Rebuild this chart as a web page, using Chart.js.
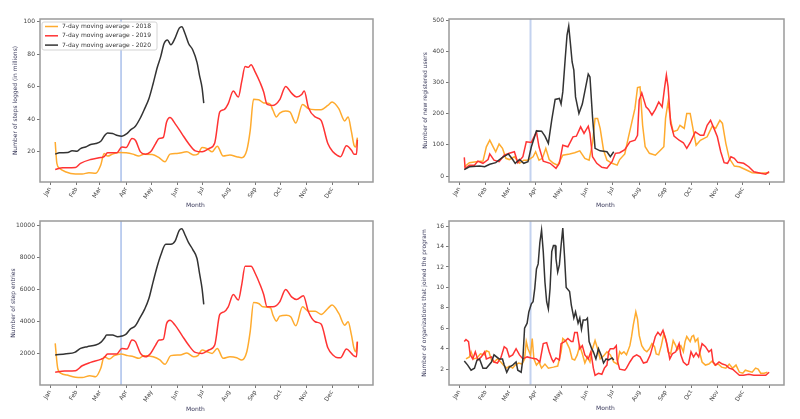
<!DOCTYPE html>
<html lang="en">
<head>
<meta charset="UTF-8">
<title>7-day moving averages</title>
<script src="https://cdn.jsdelivr.net/npm/chart.js"></script>
<style>
  body { margin: 0; background: #fff; }
  canvas { position: absolute; }
  #c1 { left: 0; top: 0; }
  #c2 { left: 400px; top: 0; }
  #c3 { left: 0; top: 210px; }
  #c4 { left: 400px; top: 210px; }
</style>
</head>
<body>
<canvas id="c1" width="400" height="210"></canvas>
<canvas id="c2" width="400" height="210"></canvas>
<canvas id="c3" width="400" height="209"></canvas>
<canvas id="c4" width="400" height="209"></canvas>
<script>
// x = day of the year, y = value
const monthDays = [0, 31, 59, 90, 120, 151, 181, 212, 243, 273, 304, 334, 365];
const monthLabels = ['Jan', 'Feb', 'Mar', 'Apr', 'May', 'Jun', 'Jul', 'Aug', 'Sep', 'Oct', 'Nov', 'Dec', ''];
const seriesLabels = ['7-day moving average - 2018', '7-day moving average - 2019', '7-day moving average - 2020'];
const lockdownDay = 84;

const stepsTicks = [20, 40, 60, 80, 100];
const usersTicks = [0, 100, 200, 300, 400, 500];
const entriesTicks = [2000, 4000, 6000, 8000, 10000];
const orgsTicks = [2, 4, 6, 8, 10, 12, 14, 16];

// steps logged (millions)
const steps2018 = [[6,26],[8,12.9],[11,9.9],[18,7.8],[30,6.4],[38,6.4],[46,7.2],[54,6.8],[60,11.9],[64,19],[68,17.4],[74,18.6],[81,19.6],[90,19.4],[98,18.6],[105,17.4],[111,18.6],[121,18.4],[129,16.5],[136,13.9],[142,18.6],[150,19],[162,20],[170,18],[175,18.6],[180,22.7],[186,22],[192,20],[198,23.5],[205,17.4],[213,18],[221,17],[227,16.4],[233,21],[237,33],[241,52.2],[247,52],[253,50],[260,49.6],[264,45.5],[268,41.4],[272,43.8],[279,45.1],[284,44.5],[291,37.7],[299,49.1],[306,46.5],[314,45.9],[321,45.9],[329,48.5],[334,50.6],[342,46.5],[349,39],[353,41.4],[357,32.2],[360,24.1],[362,23],[364,28.7]];
const steps2019 = [[6,9.2],[15,10.2],[30,10.4],[36,12.9],[48,15.3],[60,16.5],[64,17],[68,19.4],[79,19.4],[85,23],[90,22.6],[97,28.2],[101,27.1],[107,20],[113,18.6],[119,20],[125,25.1],[129,28.2],[134,28.8],[138,38.3],[142,41],[148,37.3],[156,31.2],[164,25.1],[172,20.6],[180,20],[188,22],[195,25.5],[201,44.5],[206,45.9],[211,49.6],[217,57.3],[223,53.6],[227,63.2],[231,72.3],[235,71.9],[238,73.5],[243,68.9],[249,62.2],[253,56.7],[257,49.1],[264,48.5],[272,52],[279,60.1],[286,56],[292,53.6],[298,55.2],[301,57.3],[306,47.1],[314,41.4],[321,39.3],[329,25.1],[335,20],[341,17.6],[344,17],[351,23.7],[357,21],[360,18.6],[363,18.6],[364,27.5]];
const steps2020 = [[6,18.6],[11,19.4],[21,19.6],[26,20.6],[32,20.4],[36,22],[42,23],[48,24.5],[54,25.1],[60,26.5],[64,29.6],[68,31.6],[74,31.2],[80,30],[85,29.6],[91,31.2],[95,33.3],[101,35.7],[107,40.9],[112,46.5],[117,52.6],[122,61.8],[127,71.9],[131,78.4],[135,86.5],[139,88.6],[143,85.7],[148,89.8],[153,95.9],[156,96.8],[160,92.3],[164,86.5],[169,82.5],[174,74.9],[177,66.8],[180,59.3],[182,49.9]];

// new registered users
const users2018 = [[6,30],[12,43],[20,46],[28,48],[32,94],[36,115],[40,94],[43,78],[47,103],[51,89],[55,57],[59,53],[65,62],[71,41],[76,51],[81,51],[87,62],[90,78],[94,51],[98,57],[102,89],[106,53],[111,41],[116,35],[122,67],[130,71],[136,75],[142,81],[148,57],[153,51],[157,105],[160,185],[163,185],[166,153],[170,83],[174,51],[180,41],[186,35],[189,53],[195,71],[199,121],[203,169],[207,217],[210,284],[213,286],[216,163],[219,94],[224,73],[231,67],[237,83],[241,94],[243,185],[246,238],[249,179],[252,142],[257,147],[260,163],[265,153],[268,201],[272,201],[276,142],[279,99],[284,115],[292,126],[298,160],[302,153],[307,179],[310,169],[314,105],[318,57],[324,32],[330,30],[337,21],[345,11],[355,9],[365,11]];
const users2019 = [[6,60],[7,25],[12,35],[18,35],[22,48],[28,41],[34,53],[36,71],[41,51],[47,46],[53,67],[59,73],[65,78],[69,43],[75,62],[79,110],[85,108],[91,142],[94,94],[99,48],[107,41],[114,25],[118,41],[122,99],[128,94],[134,126],[138,128],[143,158],[147,137],[152,160],[154,137],[157,62],[162,41],[168,28],[174,25],[180,46],[184,73],[189,75],[195,85],[201,110],[207,115],[210,131],[212,244],[215,267],[220,222],[223,214],[227,196],[231,214],[235,238],[239,222],[242,286],[244,324],[246,286],[249,169],[253,128],[259,115],[264,107],[268,89],[272,107],[278,142],[284,131],[288,131],[292,163],[296,179],[300,153],[304,126],[308,78],[312,43],[316,41],[320,62],[324,57],[328,44],[335,41],[341,30],[347,14],[355,9],[361,6],[365,14]];
const users2020 = [[6,21],[12,30],[24,32],[30,30],[36,38],[43,43],[51,60],[58,71],[63,53],[66,41],[71,53],[76,41],[81,46],[85,94],[91,145],[97,144],[101,128],[105,105],[109,180],[113,246],[118,249],[120,231],[122,270],[125,382],[127,452],[129,481],[131,425],[133,366],[135,340],[137,254],[141,201],[145,231],[149,286],[152,327],[154,318],[157,190],[160,89],[166,81],[174,78],[178,62],[182,78]];

// step entries
const entries2018 = [[6,2640],[9,1090],[13,780],[20,670],[30,530],[38,510],[47,630],[54,570],[60,1090],[64,1810],[70,1670],[76,1880],[84,1980],[92,1880],[99,1810],[105,1710],[111,1880],[122,1810],[130,1610],[136,1340],[143,1880],[154,1920],[162,2040],[170,1810],[175,1880],[180,2230],[186,2120],[192,2020],[198,2330],[205,1710],[213,1810],[221,1750],[227,1610],[233,2120],[237,3370],[241,5190],[247,5130],[252,4920],[261,4860],[264,4400],[268,4030],[272,4340],[280,4400],[285,4300],[291,3740],[299,4920],[306,4650],[314,4650],[321,4450],[329,4820],[334,5030],[342,4510],[349,3780],[353,3990],[357,3160],[360,2330],[362,2120],[364,2750]];
const entries2019 = [[6,840],[17,920],[30,940],[38,1250],[48,1460],[60,1650],[64,1750],[68,1980],[79,1980],[85,2330],[91,2290],[97,2850],[101,2750],[107,2020],[113,1810],[119,2020],[125,2540],[129,2850],[134,2890],[138,3890],[142,4090],[148,3780],[156,3160],[164,2540],[172,2080],[180,2020],[188,2230],[195,2540],[201,4450],[206,4610],[211,4920],[217,5690],[223,5340],[227,6310],[231,7450],[238,7450],[243,7000],[249,6270],[253,5690],[257,4920],[264,4920],[272,5230],[279,6000],[286,5540],[292,5380],[300,5610],[306,4610],[314,3990],[321,3850],[329,2370],[335,1920],[341,1750],[344,1750],[351,2290],[357,2020],[360,1860],[363,1810],[364,2750]];
const entries2020 = [[6,1920],[19,2000],[29,2080],[36,2330],[44,2440],[54,2540],[60,2710],[64,2950],[67,3160],[74,3160],[80,3060],[85,3100],[90,3220],[95,3530],[101,3740],[106,4200],[112,4780],[117,5440],[122,6480],[127,7470],[131,8140],[137,8820],[143,8820],[148,9010],[153,9690],[156,9790],[160,9380],[164,8920],[169,8490],[174,7930],[177,7000],[180,6060],[182,5070]];

// organizations that joined
const orgs2018 = [[8,3.0],[12,3.2],[14,3.7],[17,3.0],[21,3.1],[25,3.5],[30,3.4],[32,3.8],[35,3.7],[38,2.9],[41,2.7],[45,3.0],[49,2.7],[52,2.4],[56,2.1],[59,2.3],[63,2.1],[66,2.4],[70,2.6],[74,2.5],[77,3.0],[79,4.7],[81,4.0],[84,3.4],[86,5.0],[88,3.0],[91,2.4],[94,2.7],[97,2.1],[101,2.5],[105,2.1],[111,2.2],[116,2.3],[120,3.7],[122,5.0],[126,4.7],[130,4.0],[133,3.0],[136,2.9],[139,3.4],[142,4.3],[145,3.5],[148,2.6],[151,3.2],[154,2.7],[157,4.0],[160,4.8],[163,4.0],[166,3.0],[170,3.3],[174,3.7],[178,3.4],[182,2.7],[186,2.5],[189,3.7],[191,3.5],[194,3.7],[197,3.4],[201,4.3],[203,5.2],[205,6.3],[208,7.6],[210,6.9],[212,5.3],[215,4.3],[218,3.9],[221,3.7],[224,4.0],[227,4.5],[230,4.2],[232,3.5],[235,3.4],[238,4.3],[241,5.5],[244,4.7],[246,3.7],[249,3.5],[252,4.8],[255,4.3],[257,3.9],[261,4.3],[264,3.7],[266,4.7],[268,5.2],[272,4.7],[274,5.2],[276,5.3],[278,4.7],[281,5.0],[283,3.7],[286,2.7],[290,2.4],[294,2.5],[298,2.8],[301,2.4],[305,2.5],[309,2.2],[314,2.1],[318,2.5],[322,2.1],[326,2.4],[330,1.7],[334,1.6],[337,1.9],[341,1.8],[345,1.7],[349,2.1],[352,2.0],[355,1.6],[359,1.6],[363,1.7]];
const orgs2019 = [[6,4.7],[8,4.9],[11,4.7],[13,3.4],[16,3.0],[19,3.7],[22,2.9],[26,3.2],[30,3.7],[32,3.0],[38,3.2],[41,2.7],[45,2.6],[49,3.1],[53,4.2],[56,4.0],[59,3.2],[63,3.4],[67,4.0],[71,3.4],[75,3.0],[80,3.2],[85,3.1],[91,3.0],[95,2.7],[99,4.5],[103,4.6],[106,3.7],[109,3.0],[111,2.7],[114,3.1],[118,2.9],[120,4.5],[124,4.7],[128,5.0],[132,4.7],[134,4.7],[136,5.6],[139,5.6],[142,4.0],[145,4.3],[148,3.4],[152,3.0],[155,3.7],[158,2.1],[160,1.4],[164,1.6],[168,1.5],[171,2.1],[174,2.4],[176,3.7],[178,4.0],[182,4.0],[185,4.3],[186,2.9],[189,2.0],[195,1.9],[197,2.1],[201,2.7],[205,3.2],[209,3.4],[213,3.2],[217,2.6],[221,2.7],[225,3.4],[228,4.3],[231,5.2],[234,5.6],[237,5.3],[240,5.8],[243,5.0],[245,4.3],[248,3.0],[251,3.5],[255,3.7],[259,4.5],[261,3.4],[264,2.7],[268,2.4],[270,2.5],[273,3.7],[276,3.2],[279,3.6],[282,3.2],[286,4.5],[290,4.2],[294,3.7],[297,3.9],[299,2.7],[302,2.4],[306,2.7],[310,2.5],[314,2.4],[318,2.1],[322,2.0],[326,1.7],[330,1.4],[335,1.4],[341,1.5],[347,1.4],[353,1.4],[361,1.4],[365,1.7]];
const orgs2020 = [[6,2.8],[10,2.4],[14,1.9],[18,2.1],[21,2.9],[24,3.0],[28,2.1],[32,2.1],[38,2.7],[41,3.4],[47,3.0],[51,3.0],[53,2.4],[56,1.7],[59,2.2],[63,2.4],[67,2.7],[69,1.9],[73,1.7],[75,3.0],[77,6.0],[80,6.5],[82,7.6],[85,8.4],[87,8.6],[89,9.9],[91,11.8],[93,12.3],[95,14.4],[97,15.6],[99,13.5],[101,10.5],[103,8.6],[105,7.9],[107,9.9],[109,13.5],[111,14.1],[113,14.1],[114,12.8],[116,11.5],[118,12.2],[120,14.1],[122,15.8],[124,13.1],[126,10.0],[130,9.6],[132,8.3],[135,7.0],[137,7.6],[140,6.5],[142,7.0],[144,5.9],[146,6.8],[149,6.8],[151,7.0],[153,4.7],[156,4.0],[158,3.7],[161,3.0],[164,4.0],[167,3.4],[170,2.6],[173,3.0],[176,2.9],[180,3.1],[182,2.9]];

const lineColors = ['#ffab2e', '#ff3333', '#333333'];
const font = { family: 'DejaVu Sans', size: 6 };
const titleColor = '#3b3b5c';

// frame, lockdown line, "Month" label and the legend box
const decor = {
  id: 'decor',
  beforeDatasetsDraw(chart, args, o) {
    const { ctx, chartArea: a, scales: { x } } = chart;
    const px = x.getPixelForValue(lockdownDay);
    ctx.save();
    ctx.strokeStyle = o.vColor;
    ctx.lineWidth = o.vWidth;
    ctx.beginPath();
    ctx.moveTo(px, a.top);
    ctx.lineTo(px, a.bottom);
    ctx.stroke();
    ctx.restore();
  },
  afterDatasetsDraw(chart, args, o) {
    const { ctx, chartArea: a } = chart;
    ctx.save();
    ctx.strokeStyle = '#9a9a9a';
    ctx.lineWidth = 1.5;
    ctx.strokeRect(a.left, a.top, a.right - a.left, a.bottom - a.top);

    ctx.font = '6px "DejaVu Sans"';
    ctx.fillStyle = titleColor;
    ctx.textAlign = 'center';
    ctx.textBaseline = 'middle';
    ctx.fillText('Month', (a.left + a.right) / 2 - 11, o.xTitleY);

    if (o.legend) {
      const lx = a.left + 2, ly = a.top + 3;
      ctx.fillStyle = 'rgba(255,255,255,0.9)';
      ctx.strokeStyle = '#d4d4d4';
      ctx.lineWidth = 1;
      ctx.beginPath();
      ctx.roundRect(lx, ly, 115, 28, 2);
      ctx.fill();
      ctx.stroke();
      ctx.textAlign = 'left';
      chart.data.datasets.forEach((ds, i) => {
        const y = ly + 4.5 + i * 9.3;
        ctx.strokeStyle = ds.borderColor;
        ctx.lineWidth = 1.5;
        ctx.beginPath();
        ctx.moveTo(lx + 3, y);
        ctx.lineTo(lx + 16, y);
        ctx.stroke();
        ctx.fillStyle = '#333';
        ctx.fillText(ds.label, lx + 20, y);
      });
    }
    ctx.restore();
  }
};

function panel(id, series, yTicks, yMin, yMax, yTitle, L) {
  new Chart(document.getElementById(id), {
    type: 'line',
    data: {
      datasets: series.map((s, i) => ({
        label: seriesLabels[i],
        data: s.map(p => ({ x: p[0], y: p[1] })),
        borderColor: lineColors[i],
        borderWidth: 1.5,
        pointRadius: 0,
        fill: false,
        order: 2 - i,
        cubicInterpolationMode: L.smooth ? 'monotone' : 'default'
      }))
    },
    options: {
      responsive: false,
      animation: false,
      events: [],
      layout: { padding: { top: L.top, right: L.right, left: 0, bottom: 0 } },
      scales: {
        x: {
          type: 'linear',
          min: -12,
          max: 382.5,
          afterBuildTicks: s => { s.ticks = monthDays.map(v => ({ value: v })); },
          afterFit: s => { s.height = L.xHeight; },
          ticks: {
            autoSkip: false, minRotation: 60, maxRotation: 60, padding: 1,
            font, color: '#444',
            callback: (v, i) => monthLabels[i]
          },
          grid: { drawOnChartArea: false, tickLength: 3, color: '#777' },
          border: { display: false }
        },
        y: {
          min: yMin,
          max: yMax,
          afterBuildTicks: s => { s.ticks = yTicks.map(v => ({ value: v })); },
          afterFit: s => { s.width = L.yWidth; },
          ticks: { font, color: '#444', padding: 2, callback: v => String(v) },
          grid: { drawOnChartArea: false, tickLength: 3, color: '#777' },
          border: { display: false },
          title: { display: true, text: yTitle, font, color: titleColor, padding: { top: L.yTitlePad, bottom: 0 } }
        }
      },
      plugins: {
        legend: { display: false },
        tooltip: { enabled: false },
        decor: { vColor: L.vColor, vWidth: L.vWidth, legend: L.legend, xTitleY: L.xTitleY }
      }
    },
    plugins: [decor]
  });
}

panel('c1', [steps2018, steps2019, steps2020], stepsTicks, 1.5, 101.5,
  'Number of steps logged (in millions)',
  { top: 19, right: 27, yWidth: 40, xHeight: 28, yTitlePad: 12, xTitleY: 205,
    vColor: '#7f9fe0', vWidth: 1, legend: true, smooth: true });

panel('c2', [users2018, users2019, users2020], usersTicks, -19, 504,
  'Number of new registered users',
  { top: 19, right: 16, yWidth: 49, xHeight: 28, yTitlePad: 22, xTitleY: 205,
    vColor: '#c3d2ef', vWidth: 2, legend: false, smooth: false });

panel('c3', [entries2018, entries2019, entries2020], entriesTicks, 50, 10270,
  'Number of step entries',
  { top: 11, right: 27, yWidth: 40, xHeight: 34, yTitlePad: 9.5, xTitleY: 199,
    vColor: '#7f9fe0', vWidth: 1, legend: false, smooth: true });

panel('c4', [orgs2018, orgs2019, orgs2020], orgsTicks, 0.45, 16.5,
  'Number of organizations that joined the program',
  { top: 11, right: 16, yWidth: 49, xHeight: 34, yTitlePad: 21, xTitleY: 198,
    vColor: '#c3d2ef', vWidth: 2, legend: false, smooth: false });
</script>
</body>
</html>
